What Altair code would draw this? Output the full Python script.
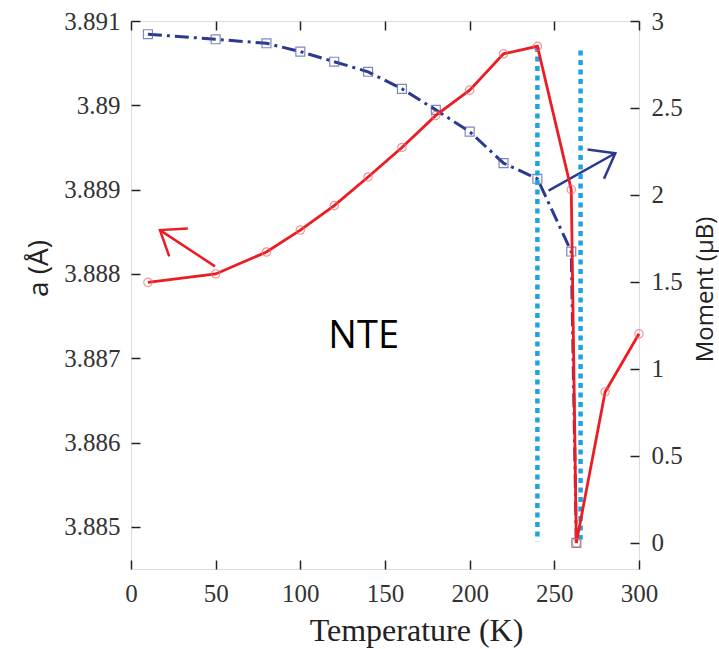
import altair as alt
import pandas as pd

# ---- data ----
temp_a = [10, 50, 80, 100, 120, 140, 160, 180, 200, 220, 240, 260, 263, 280, 300]
lattice_a = [3.8879, 3.8880, 3.88826, 3.88852, 3.88881, 3.88915, 3.88950, 3.88988,
             3.89018, 3.89061, 3.89070, 3.88900, 3.88481, 3.8866, 3.88729]
temp_m = [10, 50, 80, 100, 120, 140, 160, 180, 200, 220, 240, 260, 263]
moment = [2.924, 2.895, 2.872, 2.824, 2.766, 2.708, 2.610, 2.489, 2.364, 2.183,
          2.093, 1.675, 0.0]

# dotted transition markers (temperature, moment top, moment bottom)
marker_t = [240, 265.5]
marker_top = [2.85, 2.83]
marker_bot = [0.01, 0.02]

# arrows (tail -> tip) in data units
red_arrow_t = [49.6, 17.1]
red_arrow_a = [3.88809, 3.88852]
blue_arrow_t = [246.6, 286.0]
blue_arrow_m = [2.025, 2.24]

x_ticks = [0, 50, 100, 150, 200, 250, 300]
a_ticks = [3.885, 3.886, 3.887, 3.888, 3.889, 3.890, 3.891]
m_ticks = [0, 0.5, 1, 1.5, 2, 2.5, 3]

RED = "#ec1c24"
RED_PT = "#f06a6a"
NAVY = "#2b3990"
CYAN = "#1fa3e0"
SERIF = "Liberation Serif, Times New Roman, serif"
SANS = "Open Sans"

df_a = pd.DataFrame({"T": temp_a, "a": lattice_a})
df_m = pd.DataFrame({"T": temp_m, "m": moment})
df_mark = pd.DataFrame({"T": marker_t, "m": marker_top, "bot": marker_bot})
df_ra = pd.DataFrame({"T": [red_arrow_t[0]], "T2": [red_arrow_t[1]],
                      "a": [red_arrow_a[0]], "a2": [red_arrow_a[1]]})
df_ba = pd.DataFrame({"T": [blue_arrow_t[0]], "T2": [blue_arrow_t[1]],
                      "m": [blue_arrow_m[0]], "m2": [blue_arrow_m[1]]})
df_rh = pd.DataFrame({"T": [red_arrow_t[1]], "a": [red_arrow_a[1]]})
df_bh = pd.DataFrame({"T": [blue_arrow_t[1]], "m": [blue_arrow_m[1]]})
df_txt = pd.DataFrame({"T": [137.4], "a": [3.88712], "label": ["NTE"]})

xscale = alt.Scale(domain=[0, 300], nice=False)
ascale = alt.Scale(domain=[3.8845, 3.891], nice=False, zero=False)
mscale = alt.Scale(domain=[-0.15, 3], nice=False, zero=False)

tick_common = dict(domain=False, grid=False, tickSize=9, tickColor="#222",
                   tickWidth=1.5, labelColor="#333", labelFont=SERIF,
                   labelFontSize=25, offset=-9, labelFlush=False,
                   labelOverlap=False)

x_bottom = alt.X("T:Q", scale=xscale, axis=alt.Axis(
    orient="bottom", values=x_ticks, title="Temperature (K)", titleFont=SERIF,
    titleFontSize=32, titleFontWeight="normal", titleColor="#222",
    titleX=285, titleY=80, titleBaseline="alphabetic", titleAlign="center",
    labelPadding=12, **tick_common))
x_top = alt.X("T:Q", scale=xscale, axis=alt.Axis(
    orient="top", values=x_ticks, labels=False, title=None, **tick_common))

y_a = alt.Y("a:Q", scale=ascale, axis=alt.Axis(
    orient="left", values=a_ticks, labelExpr="format(datum.value, '.3~f')",
    title="a (Å)", titleFont=SANS, titleFontSize=28, titleFontWeight="normal",
    titleColor="#222", titleAngle=270, titleBaseline="alphabetic",
    titleAlign="center", titleX=-93, titleY=247, labelPadding=11, **tick_common))
y_m = alt.Y("m:Q", scale=mscale, axis=alt.Axis(
    orient="right", values=m_ticks, labelExpr="format(datum.value, '.1~f')",
    title="Moment (μB)", titleFont=SANS, titleFontSize=24, titleFontWeight="normal",
    titleColor="#222", titleAngle=270, titleBaseline="alphabetic",
    titleAlign="center", titleX=82, titleY=268, labelPadding=12, **tick_common))

# ---- left (lattice parameter) group ----
red_line = alt.Chart(df_a).mark_line(color=RED, strokeWidth=2.8).encode(
    x=x_bottom, y=y_a, order="T:Q")
red_pts = alt.Chart(df_a).mark_point(shape="circle", filled=False, color=RED_PT,
                                     size=70, strokeWidth=1.2).encode(x=x_bottom, y=y_a)
red_arrow = alt.Chart(df_ra).mark_rule(color=RED, strokeWidth=2.5).encode(
    x=x_bottom, x2="T2:Q", y=y_a, y2="a2:Q")
red_head = alt.Chart(df_rh).mark_point(
    shape="M-1,-0.75L0,0L-1,0.75", filled=False, color=RED, size=2000,
    strokeWidth=2.5, strokeJoin="miter", angle=213.7, opacity=1).encode(x=x_bottom, y=y_a)
nte = alt.Chart(df_txt).mark_text(font=SANS, fontSize=38, color="#000",
                                  baseline="alphabetic", align="center").encode(
    x=x_bottom, y=y_a, text="label:N")

# ---- right (moment) group ----
blue_line = alt.Chart(df_m).mark_line(color=NAVY, strokeWidth=3,
                                      strokeDash=[14, 5, 3, 5]).encode(
    x=x_top, y=y_m, order="T:Q")
blue_pts = alt.Chart(df_m).mark_point(shape="square", filled=False, color="#4a55a8",
                                      size=80, strokeWidth=1.2).encode(x=x_top, y=y_m)
blue_arrow = alt.Chart(df_ba).mark_rule(color=NAVY, strokeWidth=2.5).encode(
    x=x_top, x2="T2:Q", y=y_m, y2="m2:Q")
blue_head = alt.Chart(df_bh).mark_point(
    shape="M-1,-0.75L0,0L-1,0.75", filled=False, color=NAVY, size=2000,
    strokeWidth=2.5, strokeJoin="miter", angle=330.7, opacity=1).encode(x=x_top, y=y_m)
markers = alt.Chart(df_mark).mark_rule(color=CYAN, strokeWidth=4.5,
                                       strokeDash=[5, 4.5]).encode(
    x=x_top, y=y_m, y2="bot:Q")

chart = alt.layer(
    alt.layer(blue_line, blue_pts, blue_arrow, blue_head, markers),
    alt.layer(red_line, red_pts, red_arrow, red_head, nte),
).resolve_scale(y="independent").resolve_axis(x="independent", y="independent").properties(
    width=508, height=548,
    autosize=alt.AutoSizeParams(type="none"),
    padding={"left": 131, "top": 21, "right": 80, "bottom": 80},
).configure_view(stroke="#3a3a3a", strokeWidth=1.6).configure(background="white")

chart.save("out.html", embed_options={"renderer": "svg", "actions": False})
